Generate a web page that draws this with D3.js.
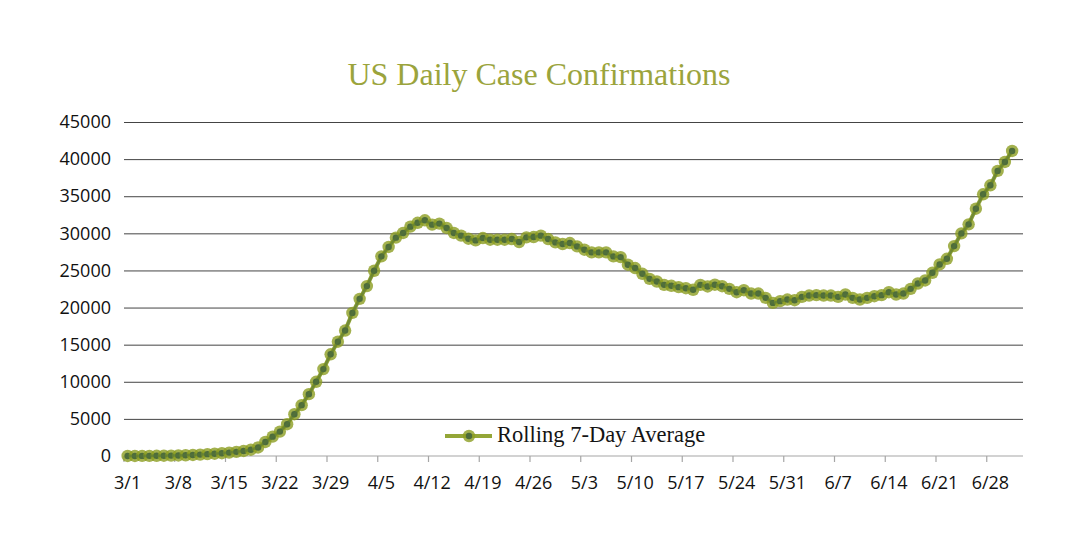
<!DOCTYPE html>
<html>
<head>
<meta charset="utf-8">
<script src="https://cdn.jsdelivr.net/npm/d3@7"></script>
<style>
  body { margin: 0; background: #fff; }
  .title { font-family: "Liberation Serif", serif; fill: #9ba43c; }
  .axis text { font-family: "Open Sans", sans-serif; font-size: 18px; fill: #111; }
  .legend text { font-family: "Liberation Serif", serif; font-size: 22.5px; fill: #141414; }
</style>
</head>
<body>
<div id="chart"></div>
<script>
// rolling 7-day average of new US cases, one value per day from 3/1
var startDay = new Date(2020, 2, 1);
var rollingAvg = [
    5, 8, 12, 20, 30, 40, 55, 75, 100, 140,
    190, 250, 310, 380, 460, 560, 680, 850, 1150, 1890,
    2610, 3290, 4280, 5630, 6850, 8330, 10000, 11710, 13700, 15400,
    16900, 19280, 21170, 22890, 24960, 26900, 28160, 29420, 30050, 30900,
    31420, 31760, 31170, 31310, 30720, 30050, 29690, 29280, 29050, 29370,
    29140, 29140, 29140, 29230, 28830, 29460, 29500, 29690, 29230, 28780,
    28560, 28690, 28240, 27790, 27430, 27430, 27430, 26890, 26800, 25770,
    25320, 24550, 23870, 23510, 23060, 22930, 22750, 22610, 22390, 23060,
    22840, 23080, 22880, 22520, 22070, 22340, 21890, 21890, 21310, 20630,
    20860, 21080, 20990, 21440, 21620, 21670, 21620, 21620, 21440, 21760,
    21310, 21080, 21310, 21530, 21670, 22070, 21760, 21890, 22520, 23240,
    23650, 24680, 25810, 26570, 28280, 29990, 31210, 33320, 35260, 36470,
    38410, 39620, 41100
];
var tickLabels = ["3/1", "3/8", "3/15", "3/22", "3/29", "4/5", "4/12", "4/19", "4/26",
    "5/3", "5/10", "5/17", "5/24", "5/31", "6/7", "6/14", "6/21", "6/28"];
var yTicks = [0, 5000, 10000, 15000, 20000, 25000, 30000, 35000, 40000, 45000];
var seriesName = "Rolling 7-Day Average";
var chartTitle = "US Daily Case Confirmations";

var width = 1080, height = 551;
var margin = {top: 122, right: 57, bottom: 95, left: 124};

var dates = d3.timeDay.range(startDay, d3.timeDay.offset(startDay, rollingAvg.length + 1));
var days = dates.map(function(d) { return d3.timeFormat("%-m/%-d")(d); });
var data = rollingAvg.map(function(v, i) { return {day: days[i], value: v}; });

var svg = d3.select("#chart").append("svg")
    .attr("width", width)
    .attr("height", height);

var xScale = d3.scaleBand()
    .domain(days)
    .range([margin.left, width - margin.right])
    .padding(0);

var yScale = d3.scaleLinear()
    .domain([0, 45000])
    .range([height - margin.bottom, margin.top]);

var half = xScale.bandwidth() / 2;

svg.append("text")
    .attr("class", "title")
    .attr("x", 539)
    .attr("y", 85)
    .attr("text-anchor", "middle")
    .style("font-size", "32px")
    .text(chartTitle);

// horizontal grid + y labels
var yAxis = d3.axisLeft(yScale)
    .tickValues(yTicks)
    .tickSize(-(width - margin.left - margin.right))
    .tickPadding(13)
    .tickFormat(function(d) { return d; });

var yG = svg.append("g")
    .attr("class", "axis")
    .attr("transform", "translate(" + margin.left + ",0)")
    .call(yAxis);
yG.select(".domain").remove();
yG.selectAll("line").attr("stroke", "#444").attr("stroke-width", 1)
    .filter(function(d) { return d == 0; }).remove();

// x axis: ticks on day boundaries, labels on the day itself
var xG = svg.append("g")
    .attr("class", "axis")
    .attr("transform", "translate(0," + yScale(0) + ")");

xG.append("line")
    .attr("x1", margin.left)
    .attr("x2", width - margin.right)
    .attr("stroke", "#a6a6a6")
    .attr("stroke-width", 1.2);

xG.selectAll(".tick").data(tickLabels).enter()
    .append("line")
    .attr("class", "tick")
    .attr("x1", function(d) { return xScale(d); })
    .attr("x2", function(d) { return xScale(d); })
    .attr("y1", 0)
    .attr("y2", 6)
    .attr("stroke", "#a6a6a6")
    .attr("stroke-width", 1.2);

xG.selectAll(".lbl").data(tickLabels).enter()
    .append("text")
    .attr("class", "lbl")
    .attr("x", function(d) { return xScale(d) + half; })
    .attr("y", 33)
    .attr("text-anchor", "middle")
    .text(function(d) { return d; });

// series
var line = d3.line()
    .x(function(d) { return xScale(d.day) + half; })
    .y(function(d) { return yScale(d.value); });

svg.append("path")
    .datum(data)
    .attr("fill", "none")
    .attr("stroke", "#94a637")
    .attr("stroke-width", 4)
    .attr("d", line);

var dots = svg.append("g").selectAll(".dot").data(data).enter()
    .append("g").attr("class", "dot")
    .attr("transform", function(d) { return "translate(" + (xScale(d.day) + half) + "," + yScale(d.value) + ")"; });

dots.append("circle")
    .attr("r", 6.2)
    .attr("fill", "#8c9d22")
    .attr("fill-opacity", 0.8);

// dark core of the markers, following the line
svg.append("path")
    .datum(data)
    .attr("fill", "none")
    .attr("stroke", "#56743a")
    .attr("stroke-width", 2.5)
    .attr("stroke-opacity", 0.55)
    .attr("d", line);

dots.append("circle")
    .attr("r", 3.2)
    .attr("fill", "#4d6c3b");

// legend
var legend = svg.append("g").attr("class", "legend");
legend.append("rect")
    .attr("x", 440).attr("y", 424).attr("width", 280).attr("height", 26)
    .attr("fill", "#fff");
legend.append("line")
    .attr("x1", 445).attr("x2", 492)
    .attr("y1", 436).attr("y2", 436)
    .attr("stroke", "#94a637").attr("stroke-width", 4);
legend.append("circle")
    .attr("cx", 469).attr("cy", 436).attr("r", 6.2)
    .attr("fill", "#8c9d22").attr("fill-opacity", 0.8);
legend.append("circle")
    .attr("cx", 469).attr("cy", 436).attr("r", 3.2)
    .attr("fill", "#4d6c3b");
legend.append("text")
    .attr("x", 497).attr("y", 442)
    .text(seriesName);
</script>
</body>
</html>
